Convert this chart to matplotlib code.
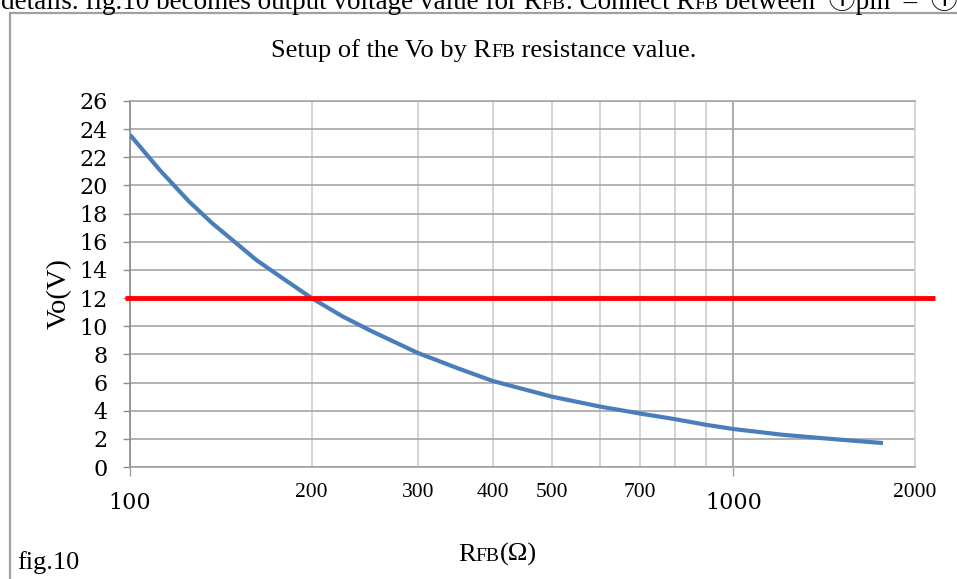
import matplotlib
matplotlib.use("Agg")
import matplotlib.pyplot as plt
from matplotlib.patches import Rectangle
from matplotlib.transforms import IdentityTransform

W, H = 957, 579

# values
r_fb = [100, 112, 125, 137, 150, 162, 175, 200, 225, 250, 300, 350, 400, 500, 600, 700, 800, 900,
        1000, 1200, 1400, 1600, 1770]
vo = [23.6, 21.1, 18.9, 17.3, 15.9, 14.7, 13.7, 12.0, 10.7, 9.7, 8.1, 7.0, 6.1, 5.0, 4.3, 3.8, 3.4, 3.0,
      2.7, 2.3, 2.05, 1.85, 1.7]
target_vo = 12

y_ticks = list(range(0, 27, 2))
x_major = [100, 1000]
x_minor = [200, 300, 400, 500, 600, 700, 800, 900, 2000]
x_minor_labels = ["200", "300", "400", "500", "", "700", "", "", "2000"]

SERIF = ["Liberation Serif", "DejaVu Serif", "Noto Sans CJK JP"]
plt.rcParams["font.family"] = ["DejaVu Serif"]

fig = plt.figure(figsize=(W / 100, H / 100), dpi=100)
ax = fig.add_axes([130 / W, (H - 467) / H, 785 / W, 366 / H])

ax.plot(r_fb, vo, color="#4a7ebb", lw=3.0, zorder=3, solid_capstyle="butt", solid_joinstyle="round")
ax.axhline(target_vo, xmin=-0.0065, xmax=1.0255, color="#ff0000", lw=3.5,
           clip_on=False, zorder=4, solid_capstyle="butt")

ax.set_xscale("log")
ax.set_xlim(100, 2000)
ax.set_ylim(0, 26)

ax.set_yticks(y_ticks)
ax.set_xticks(x_major, labels=[str(v) for v in x_major])
ax.set_xticks(x_minor, labels=x_minor_labels, minor=True)
for lbl in ax.get_xticklabels(minor=True):
    lbl.set_fontfamily(SERIF)
    lbl.set_fontsize(15.5)

ax.tick_params(axis="y", labelsize=16, length=5, width=1, color="#8c8c8c", pad=11)
ax.tick_params(axis="x", which="major", labelsize=16, length=6.5, width=1,
               color="#a0a0a0", pad=11.5)
ax.tick_params(axis="x", which="minor", length=0, pad=11.5)

ax.yaxis.grid(True, color="#a6a6a6", lw=1.2)
ax.xaxis.grid(True, which="minor", color="#d2d2d2", lw=1.3)
ax.xaxis.grid(True, which="major", color="#a6a6a6", lw=1.3)
ax.set_axisbelow(True)

ax.spines["left"].set_color("#8c8c8c")
ax.spines["bottom"].set_color("#a0a0a0")
ax.spines["top"].set_color("#a6a6a6")
ax.spines["right"].set_color("#d2d2d2")
for s in ax.spines.values():
    s.set_linewidth(1.2)

# frame of the document figure
fig.add_artist(Rectangle((9.5 / W, -0.5), 1.5, 1.5 - 13 / H, transform=fig.transFigure,
                         fill=False, edgecolor="#a0a0a0", lw=1.6))

renderer = fig.canvas.get_renderer()


def rich(x, y, pieces, ha="left", **kw):
    # pieces: (text, size); x, y in pixels from top-left, y is baseline
    arts = []
    for s, size in pieces:
        t = fig.text(0, 0, s, fontsize=size, family=SERIF, va="baseline",
                     transform=IdentityTransform(), **kw)
        arts.append(t)
    widths = [t.get_window_extent(renderer).width for t in arts]
    x0 = x - sum(widths) / 2 if ha == "center" else x
    for t, w in zip(arts, widths):
        t.set_position((x0, H - y))
        x0 += w


rich(1, 9, [("details. fig.10 becomes output voltage value for R", 19.5), ("FB", 14),
            (". Connect R", 19.5), ("FB", 14), (" between  \u2460pin  \u2013  \u2460\u2464", 19.5)])
rich(484, 57, [("Setup of the Vo by R", 19), ("FB", 14), (" resistance value.", 19)], ha="center")
rich(458, 561, [("R", 19), ("FB", 14), ("(\u03a9)", 19)])
rich(17, 569, [("fig.10", 19)])

fig.text(59 / W, 285 / H, "Vo(V)", rotation=90, ha="center", va="center",
         fontsize=20.5, family=SERIF)

fig.savefig("out.png", dpi=100)
